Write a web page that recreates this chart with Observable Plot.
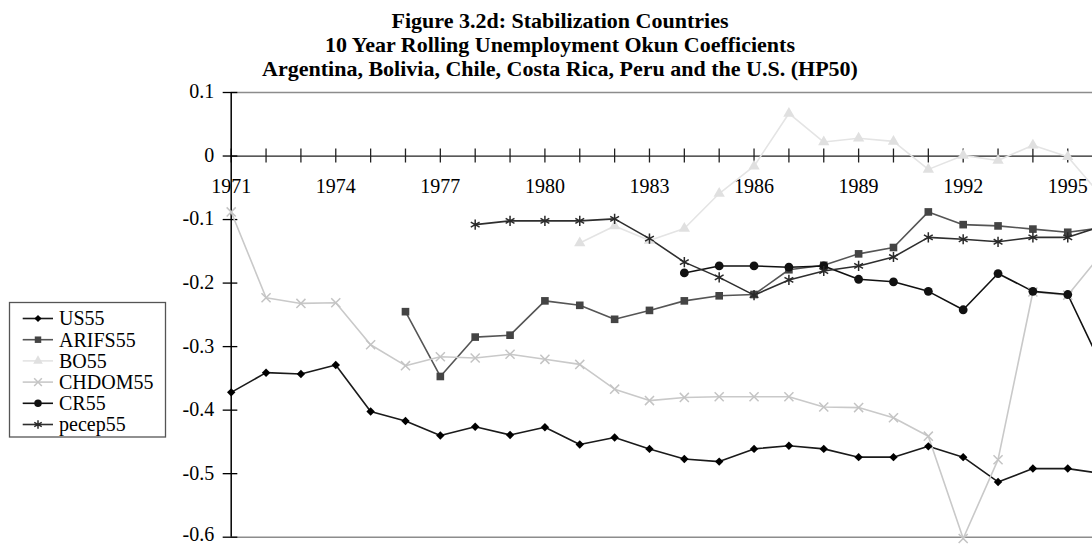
<!DOCTYPE html>
<html><head><meta charset="utf-8">
<script src="https://cdn.jsdelivr.net/npm/d3@7"></script>
<script src="https://cdn.jsdelivr.net/npm/@observablehq/plot@0.6"></script>
<style>
body{margin:0;background:#fff;overflow:hidden;}
#wrap{position:relative;width:1092px;height:545px;overflow:hidden;}
#wrap svg{position:absolute;left:0;top:0;overflow:hidden;}
</style></head>
<body><div id="wrap"></div>
<script>
const titleLines = ["Figure 3.2d: Stabilization Countries",
  "10 Year Rolling Unemployment Okun Coefficients",
  "Argentina, Bolivia, Chile, Costa Rica, Peru and the U.S. (HP50)"];
const years = [1971,1972,1973,1974,1975,1976,1977,1978,1979,1980,1981,1982,1983,1984,1985,1986,1987,1988,1989,1990,1991,1992,1993,1994,1995,1996];
const xLabels = [1971,1974,1977,1980,1983,1986,1989,1992,1995];
const yTicks = [0.1,0,-0.1,-0.2,-0.3,-0.4,-0.5,-0.6];
const seriesNames = ["US55","ARIFS55","BO55","CHDOM55","CR55","pecep55"];
const US55 = [-0.372,-0.341,-0.343,-0.329,-0.402,-0.417,-0.440,-0.426,-0.439,-0.427,-0.454,-0.443,-0.461,-0.477,-0.481,-0.461,-0.456,-0.461,-0.474,-0.474,-0.457,-0.474,-0.513,-0.492,-0.492,-0.500];
const ARIFS55 = [null,null,null,null,null,-0.245,-0.347,-0.285,-0.282,-0.228,-0.235,-0.257,-0.243,-0.228,-0.220,-0.218,-0.179,-0.172,-0.154,-0.144,-0.088,-0.108,-0.110,-0.115,-0.120,-0.113];
const BO55 = [null,null,null,null,null,null,null,null,null,null,-0.137,-0.110,-0.133,-0.114,-0.059,-0.016,0.067,0.022,0.028,0.023,-0.021,0.001,-0.007,0.017,-0.001,-0.065];
const CHDOM55 = [-0.088,-0.223,-0.232,-0.231,-0.297,-0.330,-0.316,-0.318,-0.312,-0.320,-0.328,-0.367,-0.385,-0.380,-0.379,-0.379,-0.379,-0.395,-0.396,-0.412,-0.441,-0.602,-0.478,-0.214,-0.219,-0.152];
const CR55 = [null,null,null,null,null,null,null,null,null,null,null,null,null,-0.184,-0.173,-0.173,-0.175,-0.173,-0.194,-0.198,-0.213,-0.242,-0.185,-0.213,-0.218,-0.333];
const pecep55 = [null,null,null,null,null,null,null,-0.108,-0.102,-0.102,-0.102,-0.099,-0.130,-0.167,-0.191,-0.219,-0.195,-0.181,-0.173,-0.159,-0.128,-0.131,-0.135,-0.128,-0.128,-0.110];
const seriesValues = [US55, ARIFS55, BO55, CHDOM55, CR55, pecep55];
const lineColors = ["#1a1a1a","#555555","#e4e4e4","#c9c9c9","#111111","#2e2e2e"];
const markColors = ["#000000","#444444","#e0e0e0","#c4c4c4","#111111","#2a2a2a"];
const symbols = ["diamond2","square","triangle","times","circle","asterisk"];
const filled = [true,true,true,false,true,false];
const sizes = [3.8,4.3,4.2,4.2,4.4,4.8];

const table = [];
seriesNames.forEach((s,i)=>seriesValues[i].forEach((v,j)=>{ if (v!=null) table.push({series:s, year:years[j], value:v}); }));

const fmt = d => String(+d.toFixed(1));
const font = "Liberation Serif";

const marks = [
  Plot.ruleY([0.1,-0.6], {stroke:"#8c8c8c", strokeWidth:1.5}),
  Plot.ruleY([0], {stroke:"#222", strokeWidth:1.3}),
  Plot.ruleX(years, {y1:-0.011, y2:0.011, stroke:"#222", strokeWidth:1.3}),
  Plot.ruleX([1971], {y1:-0.6, y2:0.1, stroke:"#000", strokeWidth:1.5}),
  Plot.ruleY(yTicks, {x1:1970.77, x2:1971.19, stroke:"#000", strokeWidth:1.3}),
  Plot.text(yTicks.filter(d=>d>-0.6), {x:1971, y:d=>d, text:fmt, textAnchor:"end", dx:-17, dy:-0.5, fill:"#000"}),
  Plot.text(yTicks.filter(d=>d<=-0.6), {x:1971, y:d=>d, text:fmt, textAnchor:"end", dx:-17, dy:-2.5, fill:"#000"}),
  Plot.text(xLabels, {x:d=>d, y:0, dy:31, text:d=>String(d), fill:"#000"})
];
seriesNames.forEach((s,i)=>{
  marks.push(Plot.line(table.filter(d=>d.series===s), {x:"year", y:"value", stroke:lineColors[i], strokeWidth:1.6}));
});
seriesNames.forEach((s,i)=>{
  const opts = {x:"year", y:"value", symbol:symbols[i], r:sizes[i]};
  if (filled[i]) { opts.fill = markColors[i]; opts.stroke = "none"; }
  else { opts.stroke = markColors[i]; opts.fill = "none"; opts.strokeWidth = 1.5; }
  marks.push(Plot.dot(table.filter(d=>d.series===s), opts));
});

const chart = Plot.plot({
  width:1092, height:545,
  marginTop:92, marginBottom:8.3, marginLeft:230.7, marginRight:0,
  x:{domain:[1971,1995.71], axis:null},
  y:{domain:[-0.6,0.1], axis:null},
  style:{fontFamily:font, fontSize:"20px", background:"white", overflow:"hidden"},
  marks
});
const wrap = document.getElementById("wrap");
wrap.appendChild(chart);

// overlay: title and legend
const ov = d3.select(wrap).append("svg").attr("width",1092).attr("height",545)
  .style("font-family", font).style("pointer-events","none");
ov.selectAll("text.t").data(titleLines).join("text").attr("class","t")
  .attr("x",560).attr("y",(d,i)=>28+i*24).attr("text-anchor","middle")
  .style("font-weight","bold").style("font-size","22px").attr("fill","#000").text(d=>d);

const lg = ov.append("g");
lg.append("rect").attr("x",9.5).attr("y",302.5).attr("width",156).attr("height",134.5)
  .attr("fill","#fff").attr("stroke","#555").attr("stroke-width",1.3);
const symMap = {diamond2:d3.symbolDiamond2, square:d3.symbolSquare, triangle:d3.symbolTriangle, times:d3.symbolTimes, circle:d3.symbolCircle, asterisk:d3.symbolAsterisk};
seriesNames.forEach((s,i)=>{
  const cy = 318.5 + i*21.2;
  const g = lg.append("g");
  g.append("line").attr("x1",22.7).attr("x2",53).attr("y1",cy).attr("y2",cy).attr("stroke",lineColors[i]).attr("stroke-width",1.6);
  const r = sizes[i]*0.85;
  const p = g.append("path").attr("transform",`translate(38,${cy})`).attr("d", d3.symbol(symMap[symbols[i]], r*r*Math.PI)());
  if (filled[i]) p.attr("fill",markColors[i]); else p.attr("fill","none").attr("stroke",markColors[i]).attr("stroke-width",1.5);
  g.append("text").attr("x",59).attr("y",cy+6.8).style("font-size","20px").attr("fill","#000").text(s);
});
</script></body></html>
